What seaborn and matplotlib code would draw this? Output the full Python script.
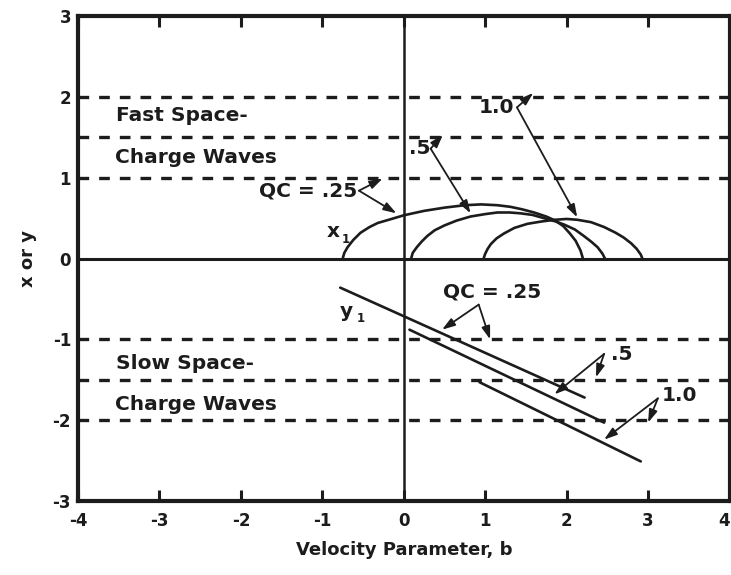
import matplotlib
matplotlib.use("Agg")
import matplotlib.pyplot as plt
import seaborn as sns

# ---------------- data ----------------
# x1 (upper arcs) for QC = .25, .5, 1.0
x1_b_025 = [-0.75, -0.73, -0.69, -0.62, -0.53, -0.42, -0.32, -0.15, 0.0, 0.25, 0.5, 0.75,
            0.95, 1.15, 1.31, 1.45, 1.6, 1.75, 1.86, 1.96, 2.04, 2.11, 2.17, 2.2]
x1_v_025 = [0.0, 0.07, 0.14, 0.23, 0.32, 0.39, 0.44, 0.49, 0.535, 0.59, 0.63, 0.66,
            0.67, 0.66, 0.64, 0.61, 0.57, 0.52, 0.47, 0.40, 0.31, 0.22, 0.10, 0.0]

x1_b_05 = [0.09, 0.11, 0.16, 0.22, 0.29, 0.38, 0.5, 0.65, 0.82, 1.0, 1.15, 1.3, 1.43,
           1.58, 1.72, 1.86, 1.97, 2.1, 2.21, 2.3, 2.38, 2.44, 2.47]
x1_v_05 = [0.0, 0.07, 0.14, 0.21, 0.28, 0.35, 0.41, 0.47, 0.52, 0.55, 0.57, 0.57, 0.56,
           0.54, 0.50, 0.46, 0.42, 0.36, 0.28, 0.21, 0.14, 0.06, 0.0]

x1_b_10 = [0.98, 1.0, 1.03, 1.07, 1.14, 1.23, 1.36, 1.52, 1.7, 1.86, 2.0, 2.13, 2.3,
           2.46, 2.6, 2.7, 2.79, 2.86, 2.91, 2.93]
x1_v_10 = [0.0, 0.06, 0.12, 0.18, 0.25, 0.31, 0.38, 0.43, 0.46, 0.48, 0.49, 0.48, 0.45,
           0.39, 0.32, 0.26, 0.19, 0.12, 0.05, 0.0]

# y1 (lower straight lines)
y1_b_025 = [-0.78, 2.22]
y1_v_025 = [-0.36, -1.72]
y1_b_05 = [0.07, 2.46]
y1_v_05 = [-0.88, -2.03]
y1_b_10 = [0.93, 2.91]
y1_v_10 = [-1.53, -2.51]

# space-charge wave levels (dashed)
wave_levels = [2.0, 1.5, 1.0, -1.0, -1.5, -2.0]

x_ticks = [-4, -3, -2, -1, 0, 1, 2, 3, 4]
y_ticks = [-3, -2, -1, 0, 1, 2, 3]

# ---------------- figure ----------------
sns.set_theme(style="white")
plt.rcParams["font.family"] = ["DejaVu Sans"]
plt.rcParams["font.weight"] = "bold"
plt.rcParams["axes.unicode_minus"] = False

W = "bold"
ink = "#1c1c1c"
fig = plt.figure(figsize=(7.31, 5.75), dpi=100)
ax = fig.add_axes([0.1067, 0.1287, 0.8913, 0.8433])
ax.set_xlim(-4, 4)
ax.set_ylim(-3, 3)

for lv in wave_levels:
    ax.axhline(lv, color=ink, lw=2.4, dashes=(3.2, 3.0), zorder=1)
ax.axhline(0, color=ink, lw=2.2, zorder=2)
ax.axvline(0, color=ink, lw=1.8, zorder=2)

curves = [(x1_b_025, x1_v_025), (x1_b_05, x1_v_05), (x1_b_10, x1_v_10),
          (y1_b_025, y1_v_025), (y1_b_05, y1_v_05), (y1_b_10, y1_v_10)]
for bb, vv in curves:
    sns.lineplot(x=bb, y=vv, ax=ax, color=ink, lw=1.9, sort=False,
                 estimator=None, legend=False, zorder=3)

# spines / ticks
for s in ax.spines.values():
    s.set_linewidth(3.0)
    s.set_color(ink)
ax.set_xticks(x_ticks)
ax.set_yticks(y_ticks)
ax.set_xticklabels([str(t) for t in x_ticks])
ax.set_yticklabels([str(t) for t in y_ticks])
ax.tick_params(axis="x", which="major", direction="in", length=8, width=2.2,
               top=True, bottom=True, labelsize=12, pad=8, colors=ink)
ax.tick_params(axis="y", direction="in", length=0, labelsize=12, pad=5, colors=ink)
for lab in ax.get_xticklabels() + ax.get_yticklabels():
    lab.set_fontweight(W)
xl = ax.get_xticklabels()
xl[-1].set_horizontalalignment("right")

ax.set_xlabel("Velocity Parameter, b", fontsize=13, fontweight=W, labelpad=8, color=ink)
ax.set_ylabel("x or y", fontsize=13, fontweight=W, labelpad=11, color=ink)

# region labels
tkw = dict(fontsize=14.5, fontweight=W, color=ink, va="center", ha="left")
ax.text(-3.53, 1.77, "Fast Space-", **tkw)
ax.text(-3.55, 1.25, "Charge Waves", **tkw)
ax.text(-3.53, -1.30, "Slow Space-", **tkw)
ax.text(-3.55, -1.81, "Charge Waves", **tkw)

# curve names
ax.text(-0.95, 0.33, "x", fontsize=14.5, fontweight=W, color=ink, va="center", ha="left")
ax.text(-0.76, 0.23, "1", fontsize=8.5, fontweight=W, color=ink, va="center", ha="left")
ax.text(-0.78, -0.66, "y", fontsize=14.5, fontweight=W, color=ink, va="center", ha="left")
ax.text(-0.58, -0.74, "1", fontsize=8.5, fontweight=W, color=ink, va="center", ha="left")

# QC labels with forked arrows
akw = dict(arrowstyle="-|>,head_length=0.55,head_width=0.18", color=ink, lw=1.3,
           shrinkA=0, shrinkB=0, mutation_scale=14)
lkw = dict(fontsize=14.5, fontweight=W, color=ink, va="center")

def fork(text, tx, ty, ha, vertex, targets):
    ax.text(tx, ty, text, ha=ha, **lkw)
    for tgt in targets:
        ax.annotate("", xy=tgt, xytext=vertex, arrowprops=akw, zorder=4)

fork("QC = .25", -0.57, 0.84, "right", (-0.55, 0.84), [(-0.26, 0.99), (-0.09, 0.56)])
fork(".5", 0.33, 1.36, "right", (0.33, 1.36), [(0.48, 1.53), (0.82, 0.56)])
fork("1.0", 1.36, 1.87, "right", (1.39, 1.87), [(1.59, 2.05), (2.13, 0.51)])
fork("QC = .25", 1.08, -0.41, "center", (0.92, -0.57), [(0.47, -0.88), (1.06, -1.0)])
fork(".5", 2.54, -1.19, "left", (2.46, -1.18), [(1.85, -1.68), (2.36, -1.47)])
fork("1.0", 3.17, -1.70, "left", (3.12, -1.73), [(2.46, -2.24), (3.0, -2.03)])

fig.savefig("out.png", dpi=100, facecolor="white")
